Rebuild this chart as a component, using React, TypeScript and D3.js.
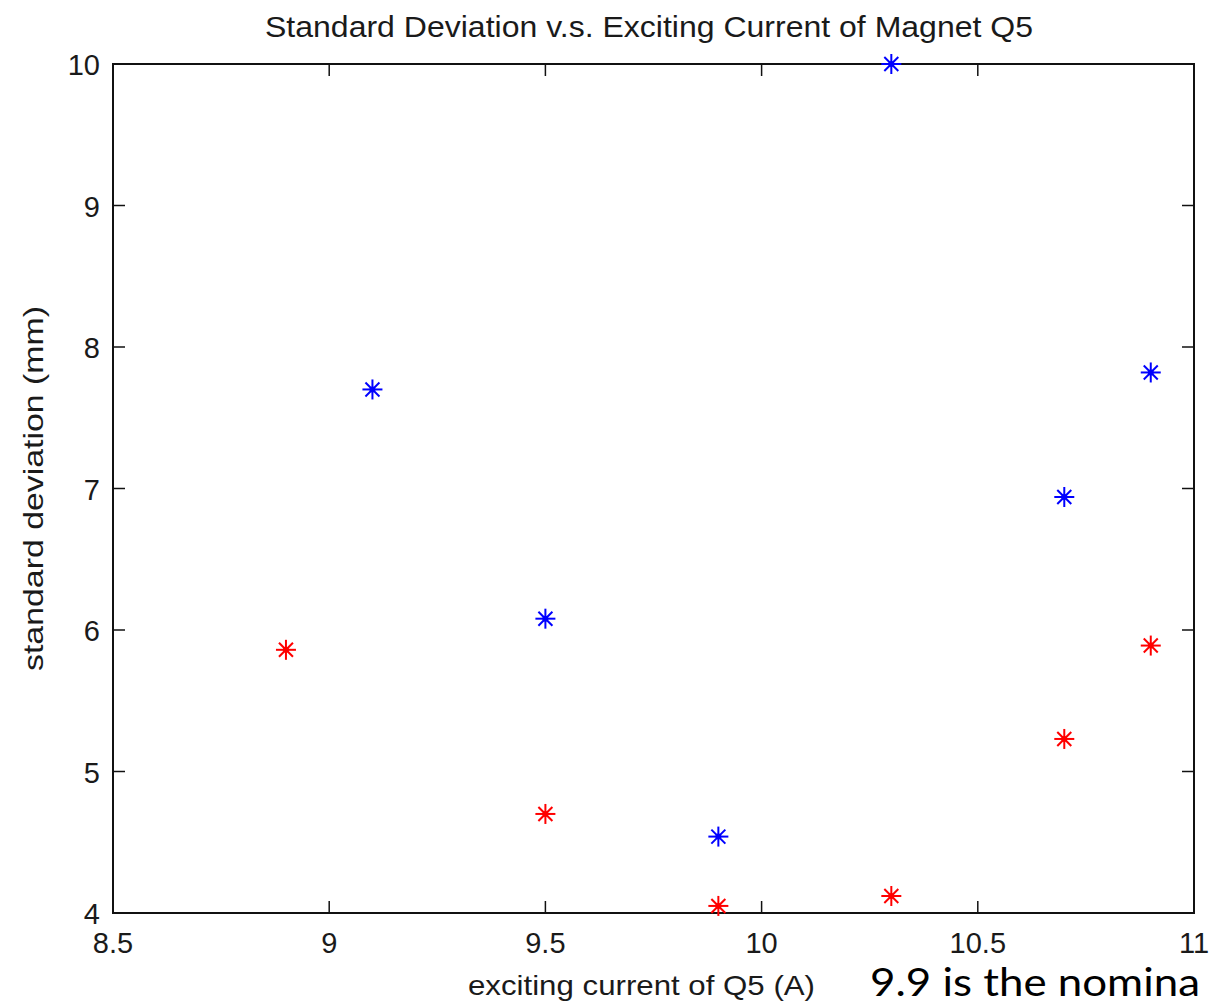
import React from "react";
import * as d3 from "d3";

// current (A) for each measurement
const currents = [8.9, 9.1, 9.5, 9.9, 10.3, 10.7, 10.9];
// null where the series has no point
const blueValues = [null, 7.7, 6.08, 4.54, 10.0, 6.94, 7.82];
const redValues = [5.86, null, 4.7, 4.05, 4.12, 5.23, 5.89];
const xTicks = [8.5, 9, 9.5, 10, 10.5, 11];
const yTicks = [4, 5, 6, 7, 8, 9, 10];

const W = 1209;
const H = 1006;
const left = 113;
const right = 1194;
const top = 64;
const bottom = 913;
const font = "'Liberation Sans', Arial, sans-serif";

const Star = ({ x, y, color }) => {
  const r = 10;
  const d = r * 0.7;
  return (
    <g stroke={color} strokeWidth={2}>
      <line x1={x - r} y1={y} x2={x + r} y2={y} />
      <line x1={x} y1={y - r} x2={x} y2={y + r} />
      <line x1={x - d} y1={y - d} x2={x + d} y2={y + d} />
      <line x1={x - d} y1={y + d} x2={x + d} y2={y - d} />
      <circle cx={x} cy={y} r={3} fill={color} stroke="none" />
    </g>
  );
};

const App = () => {
  const x = d3.scaleLinear().domain([8.5, 11]).range([left, right]);
  const y = d3.scaleLinear().domain([4, 10]).range([bottom, top]);
  const tick = 12;

  const series = [
    { values: blueValues, color: "#0000ff" },
    { values: redValues, color: "#ff0000" },
  ];

  return (
    <svg width={W} height={H} style={{ position: "absolute", left: 0, top: 0, background: "#fff" }}>
      <rect x={0} y={0} width={W} height={H} fill="#fff" />
      <text x={265} y={37} textLength={768} lengthAdjust="spacingAndGlyphs" fontFamily={font} fontSize={29} fill="#1a1a1a">
        Standard Deviation v.s. Exciting Current of Magnet Q5
      </text>

      {xTicks.map((t) => (
        <g key={"x" + t}>
          <line x1={x(t)} x2={x(t)} y1={bottom} y2={bottom - tick} stroke="#111" strokeWidth={1.5} />
          <line x1={x(t)} x2={x(t)} y1={top} y2={top + tick} stroke="#111" strokeWidth={1.5} />
          <text x={x(t)} y={953} textAnchor="middle" fontFamily={font} fontSize={29} fill="#1a1a1a">
            {t}
          </text>
        </g>
      ))}
      {yTicks.map((t) => (
        <g key={"y" + t}>
          <line x1={left} x2={left + tick} y1={y(t)} y2={y(t)} stroke="#111" strokeWidth={1.5} />
          <line x1={right} x2={right - tick} y1={y(t)} y2={y(t)} stroke="#111" strokeWidth={1.5} />
          <text x={100} y={y(t) + 11} textAnchor="end" fontFamily={font} fontSize={29} fill="#1a1a1a">
            {t}
          </text>
        </g>
      ))}

      <rect x={left} y={top} width={right - left} height={bottom - top} fill="none" stroke="#111" strokeWidth={2} />

      {series.map((s, si) =>
        s.values.map((v, i) =>
          v == null ? null : <Star key={si + "-" + i} x={x(currents[i])} y={y(v)} color={s.color} />
        )
      )}

      <text x={468} y={995} textLength={347} lengthAdjust="spacingAndGlyphs" fontFamily={font} fontSize={28} fill="#1a1a1a">
        exciting current of Q5 (A)
      </text>
      <text
        transform={`translate(43 ${(top + bottom) / 2}) rotate(-90)`}
        textAnchor="middle"
        textLength={365}
        lengthAdjust="spacingAndGlyphs"
        fontFamily={font}
        fontSize={28}
        fill="#1a1a1a"
      >
        standard deviation (mm)
      </text>
      <text x={870} y={996} textLength={330} lengthAdjust="spacingAndGlyphs" fontFamily="Lato, 'Open Sans', sans-serif" fontSize={38} fill="#000">
        9.9 is the nomina
      </text>
    </svg>
  );
};

export default App;
